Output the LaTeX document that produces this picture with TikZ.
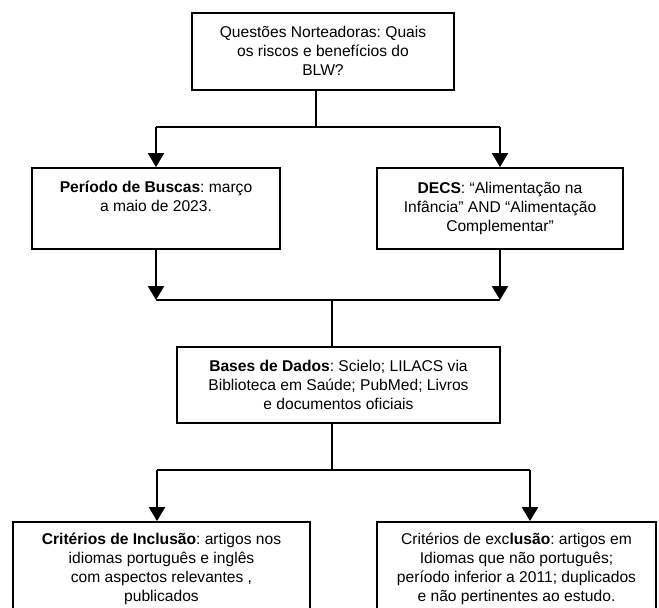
\documentclass[tikz,border=0pt]{standalone}
\usepackage{fontspec}
\setmainfont{Liberation Sans}
\usetikzlibrary{arrows.meta}
\begin{document}
\frenchspacing
\begin{tikzpicture}[x=1pt,y=-1pt,
  boxstyle/.style={draw=black,line width=1.8pt,inner sep=0pt,fill=white},
  txt/.style={anchor=north,inner sep=0pt,align=center,font=\fontsize{15.6pt}{19pt}\selectfont},
  arrowline/.style={line width=2.2pt,-{Triangle[width=16pt,length=14pt]}},
  joinline/.style={line width=2pt},
  thinline/.style={line width=1.3pt}]
\useasboundingbox[fill=white] (0,0) rectangle (659,608);
% boxes
\node[boxstyle,minimum width=262pt,minimum height=77pt] (top) at (323,51.5) {};
\node[boxstyle,minimum width=248pt,minimum height=81pt] (busca) at (156,208.5) {};
\node[boxstyle,minimum width=246pt,minimum height=81pt] (decs) at (500,208.5) {};
\node[boxstyle,minimum width=323pt,minimum height=76pt] (bases) at (338.5,385) {};
\node[boxstyle,minimum width=297pt,minimum height=108pt] (incl) at (161.5,576) {};
\node[boxstyle,minimum width=279pt,minimum height=108pt] (excl) at (516.5,576) {};
% texts
\node[txt] (ttop) at ([yshift=-14pt]top.north) {Questões Norteadoras: Quais\\os riscos e benefícios do\\BLW?};
\node[txt] (tbusca) at ([yshift=-14pt]busca.north) {\textbf{Período de Buscas}: março\\a maio de 2023.};
\node[txt] (tdecs) at ([yshift=-15pt]decs.north) {\textbf{DECS}: “Alimentação na\\Infância” AND “Alimentação\\Complementar”};
\node[txt] (tbases) at ([yshift=-14pt]bases.north) {\textbf{Bases de Dados}: Scielo; LILACS via\\Biblioteca em Saúde; PubMed; Livros\\e documentos oficiais};
\node[txt] (tincl) at ([yshift=-12pt]incl.north) {\textbf{Critérios de Inclusão}: artigos nos\\idiomas português e inglês\\com aspectos relevantes ,\\publicados};
\node[txt] (texcl) at ([yshift=-12pt]excl.north) {Critérios de exc\textbf{lusão}: artigos em\\Idiomas que não português;\\período inferior a 2011; duplicados\\e não pertinentes ao estudo.};
% junction coordinates
\coordinate (j1) at (316,127);
\coordinate (j1l) at (156,127);
\coordinate (j1r) at (500,127);
\coordinate (j2) at (332,300);
\coordinate (j2l) at (156,300);
\coordinate (j2r) at (500,300);
\coordinate (j3) at (332,470);
\coordinate (j3l) at (157,470);
\coordinate (j3r) at (530,470);
% connectors
\draw[thinline] (top.south -| j1) -- (j1);
\draw[joinline] (j1l) -- (j1r);
\draw[arrowline] (j1l) -- (busca.north);
\draw[arrowline] (j1r) -- (decs.north);
\draw[arrowline] (busca.south) -- (j2l);
\draw[arrowline] (decs.south) -- (j2r);
\draw[joinline] (j2l) -- (j2r);
\draw[thinline] (j2) -- (bases.north -| j2);
\draw[thinline] (bases.south -| j3) -- (j3);
\draw[joinline] (j3l) -- (j3r);
\draw[arrowline] (j3l) -- (j3l |- incl.north);
\draw[arrowline] (j3r) -- (j3r |- excl.north);
\end{tikzpicture}
\end{document}
